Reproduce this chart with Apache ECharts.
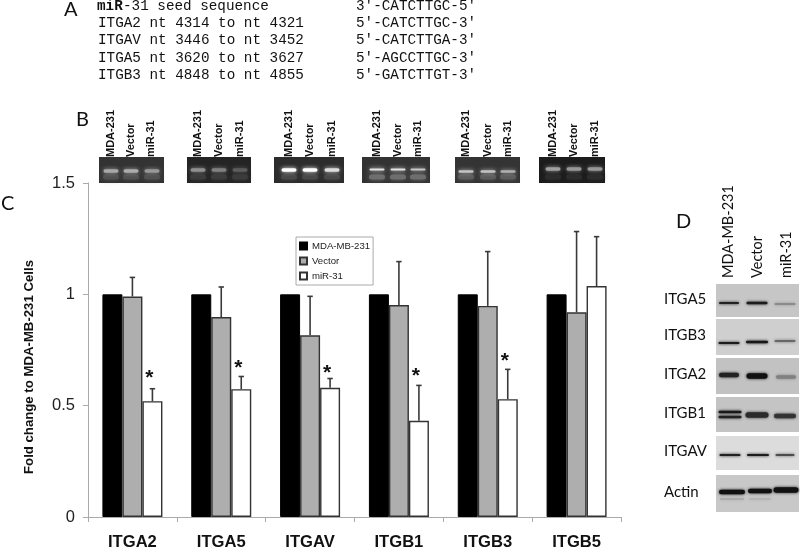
<!DOCTYPE html>
<html>
<head>
<meta charset="utf-8">
<title>miR-31 integrins</title>
<script src="https://cdn.jsdelivr.net/npm/echarts@6/dist/echarts.min.js"></script>
<style>
html, body { margin: 0; padding: 0; background: #fff; }
#main { width: 800px; height: 548px; }
</style>
</head>
<body>
<div id="main"></div>
<script>
// chart data
const categories = ['ITGA2', 'ITGA5', 'ITGAV', 'ITGB1', 'ITGB3', 'ITGB5'];
const parentalValues = [1, 1, 1, 1, 1, 1];
const vectorValues = [0.99, 0.898, 0.816, 0.952, 0.948, 0.919];
const mirValues = [0.52, 0.574, 0.58, 0.432, 0.529, 1.037];
const vectorErrTop = [1.076, 1.033, 0.991, 1.147, 1.192, 1.282];
const mirErrTop = [0.576, 0.631, 0.622, 0.591, 0.663, 1.259];
const starHeights = [0.64, 0.687, 0.664, 0.652, 0.717, null];
const yTicks = [0, 0.5, 1, 1.5];
const seriesNames = ['MDA-MB-231', 'Vector', 'miR-31'];

// panel A
const seedRows = ['ITGA2 nt 4314 to nt 4321', 'ITGAV nt 3446 to nt 3452', 'ITGA5 nt 3620 to nt 3627', 'ITGB3 nt 4848 to nt 4855'];
const seedSeqs = ["3\u2032-CATCTTGC-5\u2032", "5\u2032-CATCTTGC-3\u2032", "5\u2032-CATCTTGA-3\u2032", "5\u2032-AGCCTTGC-3\u2032", "5\u2032-GATCTTGT-3\u2032"];

// panel B, lane labels
const gelLanes = ['MDA-231', 'Vector', 'miR-31'];
// panel D, blot names
const blotNames = ['ITGA5', 'ITGB3', 'ITGA2', 'ITGB1', 'ITGAV', 'Actin'];

const barWidth = 20;
const sans = 'Liberation Sans';
const mono = 'Liberation Mono';
const photoFont = 'Lato';

const chart = echarts.init(document.getElementById('main'), null, { renderer: 'canvas' });

// error bar, only the upper half shows
function errorBar(offset) {
    return (params, api) => {
        const low = api.coord([api.value(0), api.value(1)]);
        const high = api.coord([api.value(0), api.value(2)]);
        const x = low[0] + offset;
        const style = { stroke: '#3a3a3a', lineWidth: 1.6, fill: null };
        return {
            type: 'group',
            children: [
                { type: 'line', shape: { x1: x, y1: low[1], x2: x, y2: high[1] }, style },
                { type: 'line', shape: { x1: x - 2.7, y1: high[1], x2: x + 2.7, y2: high[1] }, style }
            ]
        };
    };
}

// the glyph sits high in its box, so push it down a bit
function starItem(params, api) {
    const p = api.coord([api.value(0), api.value(1)]);
    return {
        type: 'text',
        style: { x: p[0] + barWidth - 3, y: p[1] + 4, text: '*', font: 'bold 21px ' + sans, fill: '#111', textAlign: 'center', textVerticalAlign: 'middle' }
    };
}

// gels and blots are photographs in the original, so they are only sketched here
function txt(x, y, text, font, extra) {
    return { type: 'text', x, y, silent: true, style: Object.assign({ text, font, fill: '#111', textVerticalAlign: 'middle' }, extra || {}) };
}
function rotTxt(x, y, text, font) {
    const t = txt(x, y, text, font);
    t.rotation = Math.PI / 2;
    return t;
}
function band(cx, cy, w, h, color, blur) {
    return {
        type: 'rect', silent: true,
        shape: { x: cx - w / 2, y: cy - h / 2, width: w, height: h, r: h / 2 },
        style: { fill: color, shadowBlur: blur, shadowColor: color }
    };
}
function box(x, y, w, h, fill) {
    return { type: 'rect', silent: true, shape: { x, y, width: w, height: h }, style: { fill } };
}

const gels = [
    { x0: 99, x1: 164, lanes: [111, 131, 152], labelX: [111, 131, 151], y: 171, c: ['#a8a8a8', '#acacac', '#989898'], h: 3.5, bg: '#333333', haze: '#505050' },
    { x0: 187, x1: 251, lanes: [198, 219, 240], labelX: [198, 219, 240], y: 170, c: ['#909090', '#808080', '#5c5c5c'], h: 3.5, bg: '#242424', haze: '#3c3c3c' },
    { x0: 274, x1: 344, lanes: [289, 310, 332], labelX: [289, 310, 332], y: 170, c: ['#ffffff', '#ffffff', '#dcdcdc'], h: 3.5, bg: '#2c2c2c', haze: '#484848' },
    { x0: 362, x1: 430, lanes: [377, 398, 418], labelX: [377, 398, 418], y: 169.5, c: ['#e4e4e4', '#e4e4e4', '#c8c8c8'], h: 2, bg: '#333333', haze: '#6e6e6e' },
    { x0: 455, x1: 520, lanes: [466, 488, 508], labelX: [466, 488, 508], y: 171.5, c: ['#c4c4c4', '#c4c4c4', '#b0b0b0'], h: 2.5, bg: '#343434', haze: '#5c5c5c' },
    { x0: 539, x1: 605, lanes: [553, 574, 595], labelX: [553, 574, 595], y: 169, c: ['#a0a0a0', '#989898', '#989898'], h: 3.5, bg: '#1c1c1c', haze: '#2c2c2c' }
];

const blots = [
    { y0: 284, y1: 317, bg: '#c6c6c6', bands: [[729, 303, 20, 2, '#222'], [757, 303, 21, 2.5, '#1c1c1c'], [785, 304, 21, 1.5, '#808080']] },
    { y0: 319, y1: 355, bg: '#cfcfcf', bands: [[729, 343, 21, 2, '#1c1c1c'], [757, 342, 22, 2.5, '#181818'], [785, 341, 21, 1.5, '#555']] },
    { y0: 358, y1: 394, bg: '#c2c2c2', bands: [[729, 375, 20, 4.5, '#222'], [757, 376, 21, 5.5, '#111'], [786, 377, 20, 3.5, '#808080']] },
    { y0: 397, y1: 432, bg: '#c4c4c4', bands: [[730, 412, 23, 2.5, '#1a1a1a'], [730, 417, 23, 2.5, '#222'], [757, 415, 23, 5.5, '#2a2a2a'], [785, 416, 22, 4.5, '#333']] },
    { y0: 436, y1: 470, bg: '#dcdcdc', bands: [[730, 455, 21, 1.8, '#222'], [758, 455, 22, 2.2, '#1c1c1c'], [785, 455, 19, 1.6, '#333']] },
    { y0: 475, y1: 512, bg: '#c8c8c8', bands: [[732, 492, 26, 4.5, '#111'], [760, 491, 24, 4.5, '#111'], [786, 490, 25, 5.5, '#111'], [732, 499, 24, 1, '#999'], [760, 499, 22, 1, '#aaa']] }
];

const gelItems = [];
gels.forEach(g => {
    gelItems.push(box(g.x0, 157, g.x1 - g.x0, 26, g.bg));
    g.lanes.forEach((x, i) => {
        gelItems.push(band(x, 177, 16, 5, g.haze, 5));
        gelItems.push(band(x, g.y, 15, g.h, g.c[i], 4));
        gelItems.push(rotTxt(g.labelX[i], 157, gelLanes[i], 'bold 11px ' + sans));
    });
});

const blotItems = [];
blots.forEach((b, i) => {
    blotItems.push(box(716, b.y0, 83, b.y1 - b.y0, b.bg));
    b.bands.forEach(k => blotItems.push(band(k[0], k[1], k[2], k[3], k[4], 3)));
    blotItems.push(txt(664, (b.y0 + b.y1) / 2 - 1.5, blotNames[i], '15px ' + photoFont));
});

const monoFont = '14.3px ' + mono;
const rowYs = [6, 23, 40, 58, 75];
const textItems = [
    txt(64, 10, 'A', '20px ' + photoFont),
    txt(76, 120, 'B', '20px ' + photoFont),
    txt(1, 204, 'C', '20px ' + photoFont),
    txt(676, 222, 'D', '20px ' + photoFont),
    txt(97, rowYs[0], 'miR', 'bold ' + monoFont),
    txt(123, rowYs[0], '-31 seed sequence', monoFont),
    rotTxt(728, 278, seriesNames[0], '14.5px ' + photoFont),
    rotTxt(757, 278, seriesNames[1], '14.5px ' + photoFont),
    rotTxt(786, 278, seriesNames[2], '14.5px ' + photoFont)
];
seedRows.forEach((r, i) => textItems.push(txt(98, rowYs[i + 1], r, monoFont)));
seedSeqs.forEach((s, i) => textItems.push(txt(356, rowYs[i], s, monoFont)));

const option = {
    animation: false,
    textStyle: { fontFamily: sans },
    // labels sit close to the bottom edge, keep the grid where it is put
    grid: { left: 88, right: 179, top: 183, bottom: 31, outerBoundsMode: 'none' },
    legend: {
        data: seriesNames,
        orient: 'vertical',
        left: 296,
        top: 237,
        padding: [4, 3, 4, 3],
        icon: 'rect',
        itemWidth: 7,
        itemHeight: 7,
        itemGap: 5,
        borderColor: '#aaa',
        borderWidth: 1,
        backgroundColor: '#fff',
        textStyle: { fontSize: 9.6, color: '#222' }
    },
    xAxis: {
        type: 'category',
        data: categories,
        axisLine: { lineStyle: { color: '#aaa', width: 1 } },
        axisTick: { show: true, length: 5, lineStyle: { color: '#aaa' } },
        axisLabel: { fontSize: 16.6, fontWeight: 'bold', color: '#111', margin: 17 }
    },
    yAxis: {
        type: 'value',
        min: yTicks[0],
        max: yTicks[yTicks.length - 1],
        interval: yTicks[1],
        name: 'Fold change to MDA-MB-231 Cells',
        nameLocation: 'middle',
        nameGap: 52,
        nameTextStyle: { fontSize: 13.2, fontWeight: 'bold', color: '#111', padding: [0, 34, 0, 0] },
        splitLine: { show: false },
        axisLine: { show: true, lineStyle: { color: '#aaa', width: 1 } },
        axisTick: { show: true, length: 5, lineStyle: { color: '#aaa' } },
        axisLabel: { fontSize: 16.5, color: '#222', margin: 13 }
    },
    series: [
        {
            name: seriesNames[0], type: 'bar', data: parentalValues, barWidth, barGap: 0,
            itemStyle: { color: '#000', borderColor: '#000', borderWidth: 1 }
        },
        {
            name: seriesNames[1], type: 'bar', data: vectorValues, barWidth, barGap: 0,
            itemStyle: { color: '#aeaeae', borderColor: '#333', borderWidth: 1.4 }
        },
        {
            name: seriesNames[2], type: 'bar', data: mirValues, barWidth, barGap: 0,
            itemStyle: { color: '#fff', borderColor: '#333', borderWidth: 1.4 }
        },
        {
            type: 'custom', name: 'vectorErr', z: 5,
            data: categories.map((c, i) => [i, vectorValues[i], vectorErrTop[i]]),
            renderItem: errorBar(0)
        },
        {
            type: 'custom', name: 'mirErr', z: 5,
            data: categories.map((c, i) => [i, mirValues[i], mirErrTop[i]]),
            renderItem: errorBar(barWidth)
        },
        {
            type: 'custom', name: 'stars', z: 6,
            data: categories.map((c, i) => [i, starHeights[i]]).filter(d => d[1] !== null),
            renderItem: starItem
        }
    ],
    graphic: { elements: textItems.concat(gelItems, blotItems) }
};
chart.setOption(option);
</script>
</body>
</html>
